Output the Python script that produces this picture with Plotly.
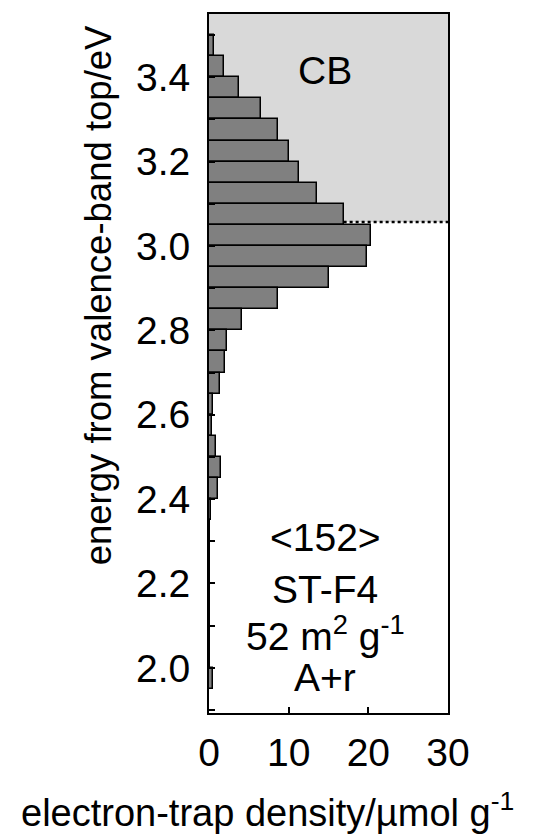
import plotly.graph_objects as go

# Energy bins (centres, eV) and electron-trap density (µmol/g)
energy = [3.475, 3.425, 3.375, 3.325, 3.275, 3.225, 3.175, 3.125, 3.075, 3.025,
          2.975, 2.925, 2.875, 2.825, 2.775, 2.725, 2.675, 2.625, 2.575, 2.525,
          2.475, 2.425, 2.375, 2.325, 2.275, 2.225, 2.175, 2.125, 2.075, 2.025, 1.975]
density = [0.6, 1.9, 3.8, 6.5, 8.7, 10.1, 11.3, 13.5, 16.9, 20.3,
           19.8, 15.0, 8.7, 4.2, 2.2, 2.0, 1.35, 0.5, 0.4, 0.85,
           1.5, 1.1, 0.3, 0.15, 0.1, 0.1, 0.1, 0.1, 0.1, 0.1, 0.5]
bin_width = 0.05
cb_edge = 3.057
x_range = [0, 30]
y_range = [1.893, 3.55]
x_ticks = [0, 10, 20, 30]
y_ticks = [2.0, 2.2, 2.4, 2.6, 2.8, 3.0, 3.2, 3.4]
labels = ["<152>", "ST-F4", "52 m<sup>2</sup> g<sup>-1</sup>", "A+r"]
label_y = [2.310, 2.185, 2.081, 1.976]

FONT = "Arial, Liberation Sans, sans-serif"

fig = go.Figure()
fig.add_trace(go.Bar(
    y=energy, x=density, orientation="h", width=bin_width,
    marker=dict(color="#808080", line=dict(color="black", width=1.5)),
    showlegend=False,
))

# CB shaded region
fig.add_shape(type="rect", xref="x", yref="y", x0=x_range[0], x1=x_range[1],
              y0=cb_edge, y1=y_range[1], fillcolor="#d9d9d9",
              line=dict(width=0), layer="below")
# dotted line at CB edge
fig.add_shape(type="line", xref="x", yref="y", x0=density[8], x1=x_range[1],
              y0=cb_edge, y1=cb_edge, line=dict(color="black", width=2.5, dash="dot"))

fig.add_annotation(x=14.6, y=3.417, text="CB", showarrow=False,
                   font=dict(family=FONT, size=39, color="black"))
for t, yy in zip(labels, label_y):
    fig.add_annotation(x=14.6, y=yy, text=t, showarrow=False,
                       font=dict(family=FONT, size=39, color="black"))

# axis titles
fig.add_annotation(xref="paper", yref="paper", x=0.245, y=-0.139,
                   text="electron-trap density/µmol g<sup>-1</sup>", showarrow=False,
                   xanchor="center", yanchor="middle",
                   font=dict(family=FONT, size=38, color="black"))
fig.add_annotation(xref="paper", yref="paper", x=-0.462, y=0.597,
                   text="energy from valence-band top/eV", showarrow=False,
                   textangle=-90, xanchor="center", yanchor="middle",
                   font=dict(family=FONT, size=36.5, color="black"))

fig.update_xaxes(range=x_range, tickvals=x_ticks, ticks="inside", ticklen=6,
                 tickwidth=1.5, tickcolor="black", showline=True, linecolor="black",
                 linewidth=2, mirror=True, showgrid=False, zeroline=False,
                 ticklabelstandoff=4,
                 tickfont=dict(family=FONT, size=39, color="black"))
fig.update_yaxes(range=y_range, tickvals=y_ticks, tickformat=".1f", ticks="inside",
                 ticklen=6, tickwidth=1.5, tickcolor="black", showline=True,
                 linecolor="black", linewidth=2, mirror=True, showgrid=False,
                 zeroline=False, ticklabelstandoff=9,
                 minor=dict(dtick=0.1, tick0=2.0, ticks="inside", ticklen=6,
                            tickcolor="black", tickwidth=1.5, showgrid=False),
                 tickfont=dict(family=FONT, size=39, color="black"))

fig.update_layout(width=534, height=834, margin=dict(l=209, r=86, t=14, b=121),
                  plot_bgcolor="white", paper_bgcolor="white", bargap=0)

fig.write_html("out.html")
